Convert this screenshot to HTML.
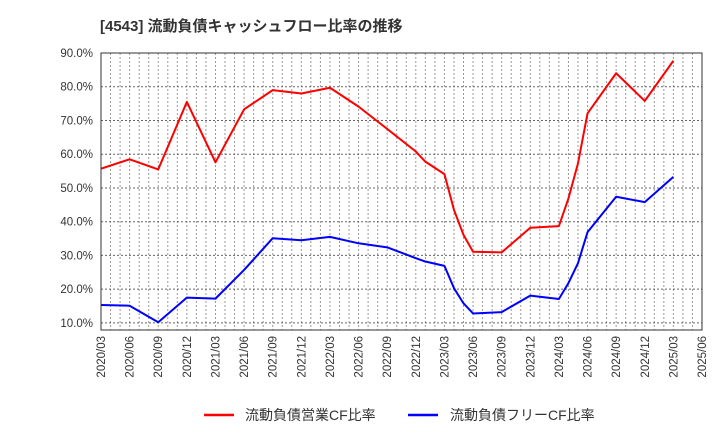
<!DOCTYPE html>
<html><head><meta charset="utf-8"><style>
body{margin:0;background:#fff;}
svg{display:block;font-family:"Liberation Sans","Noto Sans CJK JP",sans-serif;}
</style></head><body>
<svg id="chart" width="720" height="440" xmlns="http://www.w3.org/2000/svg">
<text x="100" y="31" font-size="15" font-weight="bold" fill="#333">[4543]  流動負債キャッシュフロー比率の推移</text>
<g id="grid"></g>
<g id="yaxis"></g>
<g id="xaxis"></g>
<g id="series"></g>
<rect x="101" y="53" width="601" height="277" fill="none" stroke="#333" stroke-width="1"/>
<g>
<line x1="204" y1="415" x2="234" y2="415" stroke="#ff0000" stroke-width="2.5"/>
<text x="245" y="420" font-size="14" fill="#333">流動負債営業CF比率</text>
<line x1="408" y1="415" x2="438" y2="415" stroke="#0000ff" stroke-width="2.5"/>
<text x="450" y="420" font-size="14" fill="#333">流動負債フリーCF比率</text>
</g>
</svg>
<script>
const dates = ["2020/03","2020/06","2020/09","2020/12","2021/03","2021/06","2021/09","2021/12","2022/03","2022/06","2022/09","2022/12","2023/01","2023/03","2023/04","2023/05","2023/06","2023/09","2023/12","2024/03","2024/04","2024/05","2024/06","2024/09","2024/12","2025/03"];
const operatingCF = [55.7,58.5,55.5,75.5,57.6,73.3,79.0,78.0,79.7,74.1,67.5,60.8,57.8,54.1,43.5,36.1,31.1,30.9,38.2,38.7,46.9,57.3,72.1,84.0,75.8,87.7];
const freeCF = [15.3,15.1,10.2,17.5,17.2,25.7,35.1,34.5,35.5,33.6,32.4,29.2,28.2,26.9,20.3,15.8,12.8,13.2,18.1,17.1,21.8,27.7,36.9,47.4,45.8,53.3];
const yTicks = [10,20,30,40,50,60,70,80,90];
const xTickLabels = ["2020/03","2020/06","2020/09","2020/12","2021/03","2021/06","2021/09","2021/12","2022/03","2022/06","2022/09","2022/12","2023/03","2023/06","2023/09","2023/12","2024/03","2024/06","2024/09","2024/12","2025/03","2025/06"];

const NS="http://www.w3.org/2000/svg";
const L=101,R=702,T=53,B=330,YMIN=7.9,YMAX=90;
function mIdx(d){const [y,m]=d.split("/").map(Number);return (y-2020)*12+(m-3);}
const xS=d=>L+(R-L)*mIdx(d)/63;
const yS=v=>T+(YMAX-v)/(YMAX-YMIN)*(B-T);
function mk(tag,attrs,parent){const e=document.createElementNS(NS,tag);for(const k in attrs)e.setAttribute(k,attrs[k]);parent.appendChild(e);return e;}
const grid=document.getElementById('grid'),ya=document.getElementById('yaxis'),xa=document.getElementById('xaxis'),ser=document.getElementById('series');
for(let m=1;m<63;m++){const x=L+(R-L)*m/63;
 const g=mk('line',{x1:x,y1:T,x2:x,y2:B,stroke:'#999','stroke-width':1,'stroke-dasharray':'2,2'},grid);
 
 }
yTicks.forEach(v=>{const y=yS(v);
 const g=mk('line',{x1:L,y1:y,x2:R,y2:y,stroke:'#666','stroke-width':1,'stroke-dasharray':'2,2'},grid);
 
 
 const t=mk('text',{x:93,y:y+4,'font-size':11.5,'text-anchor':'end',fill:'#333'},ya);
 
 
 t.textContent=v.toFixed(1)+'%';});
xTickLabels.forEach(d=>{const x=xS(d);
 const t=mk('text',{x:0,y:0,'font-size':11.5,'text-anchor':'end',fill:'#333',transform:`translate(${x+4},${336}) rotate(-90)`},xa);
 
 
 t.textContent=d;});
function line(vals,color,name){
 const p=mk('polyline',{points:dates.map((d,i)=>xS(d)+','+yS(vals[i])).join(' '),fill:'none',stroke:color,'stroke-width':2,'stroke-linejoin':'round'},ser);
 
 }
line(operatingCF,'#ff0000','operating-cf-line');
line(freeCF,'#0000ff','free-cf-line');
</script>
</body></html>
